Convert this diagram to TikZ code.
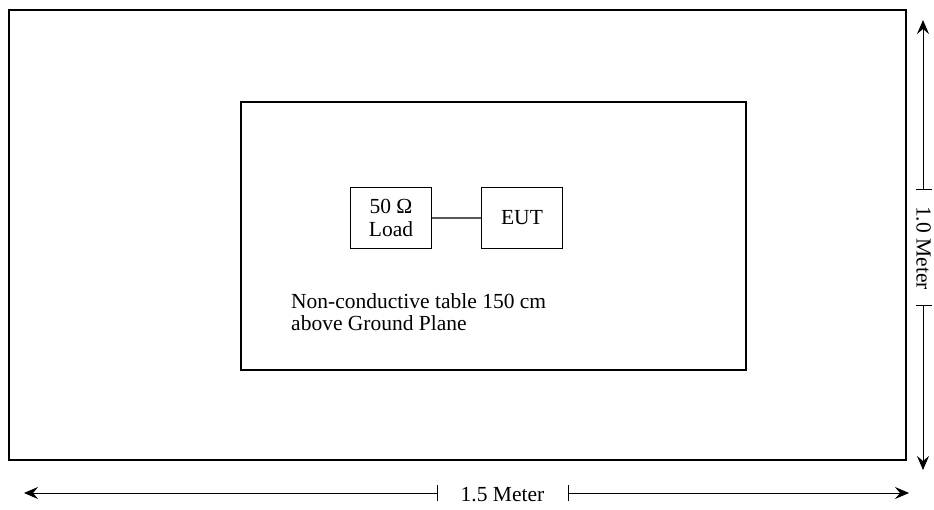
\documentclass[tikz,border=0pt]{standalone}
\usepackage{fontspec}
\setmainfont{Liberation Serif}
\usetikzlibrary{arrows.meta}
\tikzset{
  thickbox/.style={draw=black,line width=2pt},
  smallbox/.style={draw=black,line width=1.2pt,minimum width=81pt,minimum height=61pt,inner sep=0pt,align=center,font=\fontsize{21.5}{23}\selectfont},
  dimline/.style={draw=black,line width=1pt},
  dimtip/.style={-{Stealth[length=14pt,width=12pt,inset=5pt]}},
  lbl/.style={font=\fontsize{21.5}{22.5}\selectfont,inner sep=0pt}
}
\begin{document}
\begin{tikzpicture}[x=1pt,y=-1pt]
\useasboundingbox (0,0) rectangle (934,510);
% outer ground plane
\draw[thickbox] (9,10) rectangle (906,460);
% inner table
\draw[thickbox] (241,102) rectangle (746,370);
% boxes
\node[smallbox] (load) at (391,218) {50 Ω\\Load};
\node[smallbox] (eut) at (522,218) {EUT};
\draw[draw=black!65,line width=1.2pt] (load) -- (eut);
% table label
\node[lbl,anchor=base west,align=left] (tbl) at (291,331) {Non-conductive table 150 cm\\above Ground Plane};
% bottom dimension
\coordinate (bl) at (24,493);
\coordinate (br) at (909,493);
\coordinate (bt1) at (437,493);
\coordinate (bt2) at (568,493);
\node[lbl,anchor=base] (blbl) at (502.5,501) {1.5 Meter};
\draw[dimline,dimtip] (bt1) -- (bl);
\draw[dimline,dimtip] (bt2) -- (br);
\draw[dimline] ([yshift=-8]bt1) -- ([yshift=8]bt1);
\draw[dimline] ([yshift=-8]bt2) -- ([yshift=8]bt2);
% right dimension
\coordinate (vt) at (923,20);
\coordinate (vb) at (923,470);
\coordinate (vt1) at (923,190);
\coordinate (vt2) at (923,306);
\node[lbl,rotate=-90,anchor=base] (vlbl) at (916.5,248) {1.0 Meter};
\draw[dimline,dimtip] (vt1) -- (vt);
\draw[dimline,dimtip] (vt2) -- (vb);
\draw[dimline] ([xshift=-7]vt1) -- ([xshift=9]vt1);
\draw[dimline] ([xshift=-7]vt2) -- ([xshift=9]vt2);
\end{tikzpicture}
\end{document}
